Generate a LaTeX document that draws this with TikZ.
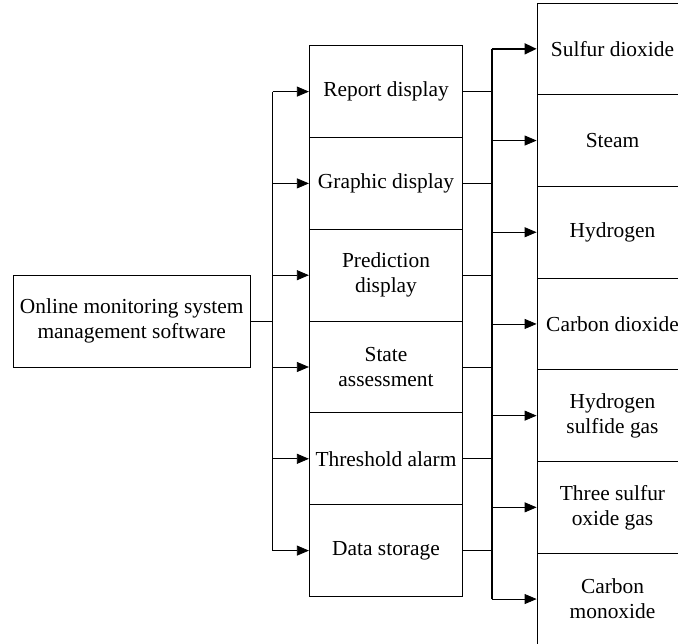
\documentclass[tikz,border=0pt]{standalone}
\usepackage{fontspec}
\setmainfont{Liberation Serif}
\usetikzlibrary{arrows.meta}
\begin{document}
\begin{tikzpicture}[x=1pt,y=-1pt,
  txt/.style={font=\fontsize{21.4}{25}\selectfont, align=center, inner sep=0pt},
  box/.style={txt, draw, line width=0.8pt},
  midbox/.style={box, minimum width=153.4pt, minimum height=91.8pt},
  rbox/.style={box, minimum width=151pt, minimum height=91.7pt},
  conn/.style={line width=0.8pt},
  bus/.style={line width=1.6pt},
  arr/.style={conn, -{Triangle[length=12pt,width=10pt]}},
  barr/.style={bus, -{Triangle[length=12pt,width=11pt]}}]
\useasboundingbox (0,0) rectangle (678,644);
\begin{scope}
\clip (0,0) rectangle (678,644);
% left box
\node[box, minimum width=236.7pt, minimum height=92.3pt] (L) at (131.7,321.2) {Online monitoring system\\management software};
% middle column
\node[midbox] (m1) at (386,91.6)  {Report display};
\node[midbox] (m2) at (386,183.4) {Graphic display};
\node[midbox] (m3) at (386,275.2) {Prediction\\display};
\node[midbox] (m4) at (386,367.0) {State\\assessment};
\node[midbox] (m5) at (386,458.8) {Threshold alarm};
\node[midbox] (m6) at (386,550.6) {Data storage};
% right column
\node[rbox] (r1) at (612.5,48.85)  {Sulfur dioxide};
\node[rbox] (r2) at (612.5,140.55) {Steam};
\node[rbox] (r3) at (612.5,232.25) {Hydrogen};
\node[rbox] (r4) at (612.5,323.95) {Carbon dioxide};
\node[rbox] (r5) at (612.5,415.65) {Hydrogen\\sulfide gas};
\node[rbox] (r6) at (612.5,507.35) {Three sulfur\\oxide gas};
\node[rbox] (r7) at (612.5,599.05) {Carbon\\monoxide};
% left bus
\coordinate (lx) at (272.7,0);
\coordinate (lbt) at (m1.west -| lx);
\coordinate (lbb) at (m6.west -| lx);
\draw[conn] (L.east) -- (L.east -| lx);
\draw[conn] (lbt) -- (lbb);
\foreach \m in {m1,m2,m3,m4,m5,m6}
  \draw[arr] (\m.west -| lx) -- (\m.west);
% right bus
\coordinate (rx) at (491.7,0);
\coordinate (rbt) at (r1.west -| rx);
\coordinate (rbb) at (r7.west -| rx);
\draw[bus] (rbt) -- (rbb);
\draw[bus] (m1.east) -- (m1.east -| rx);
\foreach \m in {m2,m3,m4,m5,m6}
  \draw[conn] (\m.east) -- (\m.east -| rx);
\draw[barr] (rbt) -- (r1.west);
\foreach \r in {r2,r3,r4,r5,r6,r7}
  \draw[arr] (\r.west -| rx) -- (\r.west);
\end{scope}
\end{tikzpicture}
\end{document}
